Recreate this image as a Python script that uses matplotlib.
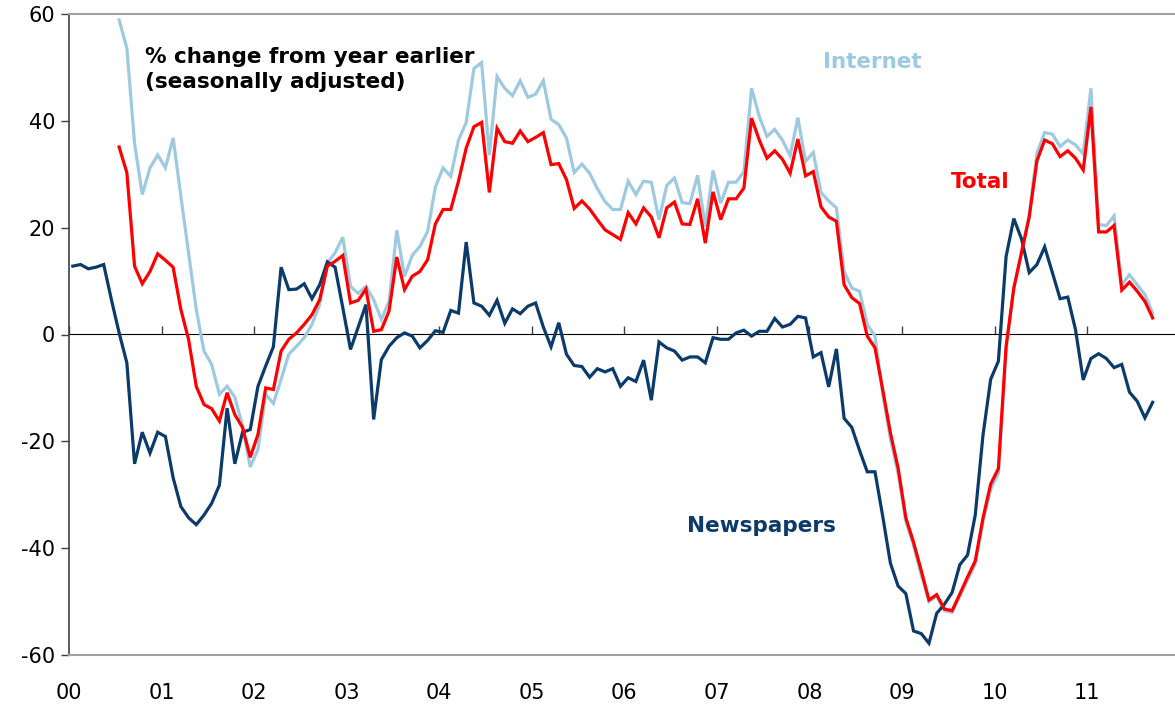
import numpy as np
import pandas as pd
import matplotlib
matplotlib.use("Agg")
import matplotlib.pyplot as plt

# Monthly data, Jan 2000 .. Sep 2011
months = pd.date_range("2000-01-01", periods=141, freq="MS")

newspapers = [
    12.8, 13.1, 12.3, 12.6, 13.1, 6.5, 0.3, -5.3, -24.2, -18.3, -22.2, -18.3,
    -19.1, -26.8, -32.2, -34.3, -35.6, -33.8, -31.6, -28.2, -13.8, -24.2, -18.3, -17.8,
    -9.7, -5.9, -2.3, 12.6, 8.4, 8.5, 9.5, 6.7, 9.3, 13.6, 12.6, 5.0,
    -2.8, 1.4, 5.6, -15.9, -4.7, -2.2, -0.6, 0.3, -0.3, -2.5, -1.1, 0.7,
    0.4, 4.5, 4.0, 17.3, 5.9, 5.3, 3.6, 6.4, 2.1, 4.8, 3.9, 5.3,
    5.9, 1.4, -2.3, 2.2, -3.7, -5.8, -6.0, -8.0, -6.4, -7.0, -6.4, -9.7,
    -8.1, -8.8, -4.8, -12.3, -1.4, -2.5, -3.1, -4.8, -4.2, -4.2, -5.3, -0.6,
    -0.9, -0.9, 0.3, 0.8, -0.3, 0.6, 0.6, 3.0, 1.4, 1.9, 3.4, 3.1,
    -4.2, -3.4, -9.8, -2.7, -15.7, -17.4, -21.7, -25.7, -25.7, -34.0, -42.8, -47.1,
    -48.5, -55.5, -56.0, -57.8, -52.2, -50.5, -48.3, -43.1, -41.3, -33.8, -18.9, -8.4,
    -5.0, 14.6, 21.7, 17.9, 11.6, 13.1, 16.4, 11.6, 6.7, 7.0, 0.9, -8.5,
    -4.5, -3.6, -4.5, -6.2, -5.6, -10.8, -12.5, -15.6, -12.7,
]

# Internet and Total start in Jul 2000 (month index 6)
start_other = 6
internet = [
    58.9, 53.6, 35.8, 26.2, 31.2, 33.6,
    31.2, 36.8, 25.9, 15.3, 4.7, -3.1, -5.6, -11.2, -9.7, -11.7, -17.1, -24.8,
    -21.5, -11.2, -12.9, -8.4, -3.7, -2.2, -0.6, 1.9, 5.6, 13.4, 15.3, 18.2,
    9.0, 7.7, 9.0, 6.5, 2.8, 6.2, 19.5, 10.9, 14.8, 16.5, 19.3, 27.6,
    31.2, 29.6, 36.4, 39.7, 49.8, 50.9, 33.6, 48.3, 46.1, 44.7, 47.5, 44.4,
    45.0, 47.5, 40.3, 39.3, 36.8, 30.3, 31.9, 30.2, 27.3, 24.9, 23.4, 23.4,
    28.7, 26.2, 28.7, 28.5, 21.5, 27.9, 29.3, 24.7, 24.5, 29.8, 20.2, 30.7,
    24.6, 28.5, 28.5, 30.5, 46.1, 40.8, 37.1, 38.4, 36.4, 33.5, 40.6, 32.4,
    34.1, 26.6, 25.0, 23.7, 11.8, 8.7, 8.1, 1.9, -0.3, -11.0, -19.5, -26.0,
    -35.0, -39.5, -45.0, -50.0, -49.0, -51.7, -52.0, -49.0, -46.0, -43.0, -35.0, -29.0,
    -26.0, -3.0, 8.5, 15.5, 22.5, 34.0, 37.8, 37.5, 35.2, 36.4, 35.5, 33.8,
    46.1, 20.6, 20.4, 22.2, 9.3, 11.2, 9.3, 7.5, 4.0,
]
total = [
    35.1, 30.3, 12.8, 9.5, 11.8, 15.1,
    13.9, 12.6, 4.7, -0.9, -9.7, -13.1, -13.9, -16.2, -10.9, -15.0, -17.4, -23.0,
    -18.7, -10.0, -10.3, -3.1, -0.9, 0.3, 1.9, 3.7, 6.5, 12.8, 13.7, 14.8,
    5.9, 6.4, 8.5, 0.6, 0.9, 4.4, 14.5, 8.4, 10.9, 11.8, 14.0, 20.7,
    23.4, 23.4, 28.7, 34.9, 38.9, 39.7, 26.6, 38.6, 36.1, 35.8, 38.1, 36.1,
    36.9, 37.8, 31.8, 32.0, 29.0, 23.6, 25.0, 23.5, 21.5, 19.6, 18.7, 17.8,
    22.8, 20.7, 23.7, 22.0, 18.1, 23.7, 24.8, 20.7, 20.6, 25.4, 17.1, 26.7,
    21.5, 25.4, 25.4, 27.4, 40.5, 36.4, 33.0, 34.4, 32.8, 30.2, 36.6, 29.7,
    30.5, 23.9, 22.0, 21.2, 9.3, 6.9, 5.8, -0.3, -2.5, -10.3, -18.4, -25.0,
    -34.3, -38.9, -44.2, -49.7, -48.7, -51.4, -51.7, -48.6, -45.4, -42.4, -34.4, -28.0,
    -25.1, -2.2, 8.7, 15.3, 22.0, 32.5, 36.4, 35.7, 33.3, 34.4, 33.0, 30.8,
    42.6, 19.2, 19.2, 20.4, 8.3, 9.8, 8.1, 6.2, 3.1,
]

year_ticks = list(range(0, 12))
year_labels = ["%02d" % y for y in year_ticks]
y_ticks = [-60, -40, -20, 0, 20, 40, 60]

c_news = "#0b3b6a"
c_total = "#ff0000"
c_net = "#9ecae1"

# x position: years since 2000, points centred in their month
xpos = np.array([(d.year - 2000) + (d.month - 1) / 12 + 1 / 24 for d in months])

fig = plt.figure(figsize=(11.75, 7.06), dpi=100)
ax = fig.add_axes([69 / 1175, 51 / 706, 1 - 69 / 1175, (655 - 14) / 706])

ax.plot(xpos[start_other:], internet, color=c_net, lw=2.3, zorder=3, solid_joinstyle="miter")
ax.plot(xpos, newspapers, color=c_news, lw=2.3, zorder=4, solid_joinstyle="miter")
ax.plot(xpos[start_other:], total, color=c_total, lw=2.3, zorder=5, solid_joinstyle="miter")

ax.set_xlim(0, 11.95)
ax.set_ylim(-60, 60)

ax.set_yticks(y_ticks)
ax.set_yticklabels([str(v) for v in y_ticks])
ax.set_xticks(year_ticks)
ax.set_xticklabels(year_labels)
ax.tick_params(axis="x", length=0, pad=20, labelsize=15, colors="black")
ax.tick_params(axis="y", length=6, width=1, color="#404040", labelsize=15, pad=4)

ax.spines["right"].set_visible(False)
ax.spines["left"].set_color("#404040")
ax.spines["left"].set_linewidth(1.2)
ax.spines["top"].set_color("#a0a0a0")
ax.spines["top"].set_linewidth(1.5)
ax.spines["bottom"].set_color("#a0a0a0")
ax.spines["bottom"].set_linewidth(1.5)

# zero axis with downward tick marks
sec = ax.secondary_xaxis(0.5)
sec.set_xticks(year_ticks)
sec.set_xticklabels([])
sec.tick_params(axis="x", direction="out", length=6, width=1, color="#404040")
sec.spines["bottom"].set_color("#404040")
sec.spines["bottom"].set_linewidth(1.2)

ax.text(0.82, 49.6, "% change from year earlier\n(seasonally adjusted)",
        fontsize=15.5, fontweight="bold", color="black", ha="left", va="center",
        linespacing=1.35)
ax.text(8.68, 51.0, "Internet", fontsize=15.5, fontweight="bold", color=c_net, ha="center", va="center")
ax.text(9.85, 28.6, "Total", fontsize=15.5, fontweight="bold", color=c_total, ha="center", va="center")
ax.text(7.48, -35.9, "Newspapers", fontsize=15.5, fontweight="bold", color=c_news, ha="center", va="center")

fig.savefig("out.png", dpi=100)
